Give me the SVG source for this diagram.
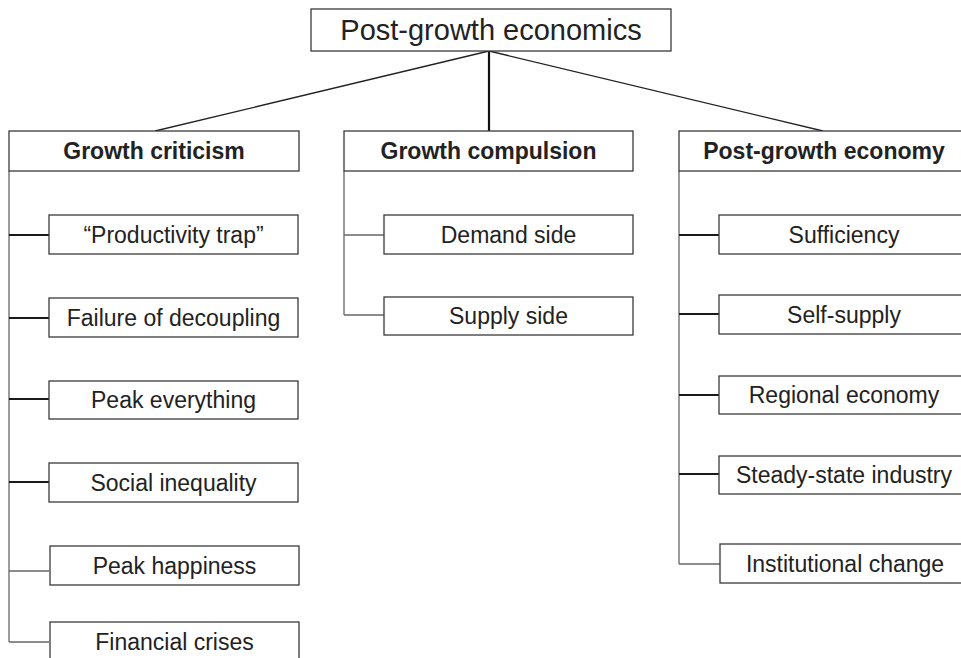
<svg xmlns="http://www.w3.org/2000/svg" width="961" height="658" viewBox="0 0 961 658">
  <style>
    .box { fill: #ffffff; stroke: #3a3a3a; stroke-width: 1.3; }
    .txt { font-family: "Liberation Sans", Arial, sans-serif; fill: #222222; text-anchor: middle; }
    .title { font-size: 29px; }
    .head { font-size: 23px; font-weight: bold; }
    .item { font-size: 23px; }
    .trunk { stroke: #7a7a7a; stroke-width: 1.5; fill: none; }
    .tick { stroke: #1a1a1a; stroke-width: 2; fill: none; }
    .tick-light { stroke: #666666; stroke-width: 1.5; fill: none; }
    .fan { stroke: #222222; stroke-width: 1.3; fill: none; }
    .stem { stroke: #111111; stroke-width: 2.2; fill: none; }
  </style>

  <!-- connectors -->
  <g id="connectors">
    <line class="stem" x1="489" y1="51" x2="489" y2="131"/>
    <line class="fan" x1="489" y1="51" x2="155" y2="131"/>
    <line class="fan" x1="489" y1="51" x2="823" y2="131"/>

    <!-- left branch -->
    <line class="trunk" x1="9" y1="171" x2="9" y2="642"/>
    <line class="tick" x1="9" y1="235" x2="49" y2="235"/>
    <line class="tick" x1="9" y1="318" x2="49" y2="318"/>
    <line class="tick" x1="9" y1="399" x2="49" y2="399"/>
    <line class="tick" x1="9" y1="482" x2="49" y2="482"/>
    <line class="tick-light" x1="9" y1="571" x2="49" y2="571"/>
    <line class="tick-light" x1="9" y1="642" x2="49" y2="642"/>

    <!-- middle branch -->
    <line class="trunk" x1="344" y1="171" x2="344" y2="315"/>
    <line class="tick-light" x1="344" y1="235" x2="384" y2="235"/>
    <line class="tick-light" x1="344" y1="315" x2="384" y2="315"/>

    <!-- right branch -->
    <line class="trunk" x1="679" y1="171" x2="679" y2="564"/>
    <line class="tick" x1="679" y1="235" x2="719" y2="235"/>
    <line class="tick" x1="679" y1="314" x2="720" y2="314"/>
    <line class="tick" x1="679" y1="395" x2="720" y2="395"/>
    <line class="tick" x1="679" y1="474" x2="720" y2="474"/>
    <line class="tick-light" x1="679" y1="564" x2="720" y2="564"/>
  </g>

  <!-- root -->
  <g id="root">
    <rect class="box" x="311" y="9" width="360" height="42"/>
    <text class="txt title" x="491" y="40">Post-growth economics</text>
  </g>

  <!-- column headers -->
  <g id="growth-criticism">
    <rect class="box" x="9" y="131" width="290" height="40"/>
    <text class="txt head" x="154" y="159">Growth criticism</text>
  </g>
  <g id="growth-compulsion">
    <rect class="box" x="344" y="131" width="289" height="40"/>
    <text class="txt head" x="488.5" y="159">Growth compulsion</text>
  </g>
  <g id="post-growth-economy">
    <rect class="box" x="679" y="131" width="290" height="40"/>
    <text class="txt head" x="824" y="159">Post-growth economy</text>
  </g>

  <!-- growth criticism items -->
  <g id="productivity-trap">
    <rect class="box" x="49" y="215" width="249" height="39"/>
    <text class="txt item" x="173.5" y="242.5">“Productivity trap”</text>
  </g>
  <g id="failure-of-decoupling">
    <rect class="box" x="49" y="298" width="249" height="39"/>
    <text class="txt item" x="173.5" y="325.5">Failure of decoupling</text>
  </g>
  <g id="peak-everything">
    <rect class="box" x="49" y="381" width="249" height="38"/>
    <text class="txt item" x="173.5" y="408">Peak everything</text>
  </g>
  <g id="social-inequality">
    <rect class="box" x="49" y="463" width="249" height="39"/>
    <text class="txt item" x="173.5" y="490.5">Social inequality</text>
  </g>
  <g id="peak-happiness">
    <rect class="box" x="50" y="546" width="249" height="39"/>
    <text class="txt item" x="174.5" y="573.5">Peak happiness</text>
  </g>
  <g id="financial-crises">
    <rect class="box" x="50" y="622" width="249" height="40"/>
    <text class="txt item" x="174.5" y="650">Financial crises</text>
  </g>

  <!-- growth compulsion items -->
  <g id="demand-side">
    <rect class="box" x="384" y="215" width="249" height="39"/>
    <text class="txt item" x="508.5" y="242.5">Demand side</text>
  </g>
  <g id="supply-side">
    <rect class="box" x="384" y="297" width="249" height="38"/>
    <text class="txt item" x="508.5" y="324">Supply side</text>
  </g>

  <!-- post-growth economy items -->
  <g id="sufficiency">
    <rect class="box" x="719" y="215" width="250" height="39"/>
    <text class="txt item" x="844" y="242.5">Sufficiency</text>
  </g>
  <g id="self-supply">
    <rect class="box" x="719" y="295" width="250" height="39"/>
    <text class="txt item" x="844" y="322.5">Self-supply</text>
  </g>
  <g id="regional-economy">
    <rect class="box" x="719" y="376" width="250" height="38"/>
    <text class="txt item" x="844" y="403">Regional economy</text>
  </g>
  <g id="steady-state-industry">
    <rect class="box" x="719" y="456" width="250" height="38"/>
    <text class="txt item" x="844" y="483">Steady-state industry</text>
  </g>
  <g id="institutional-change">
    <rect class="box" x="720" y="544" width="250" height="39"/>
    <text class="txt item" x="845" y="571.5">Institutional change</text>
  </g>
</svg>
